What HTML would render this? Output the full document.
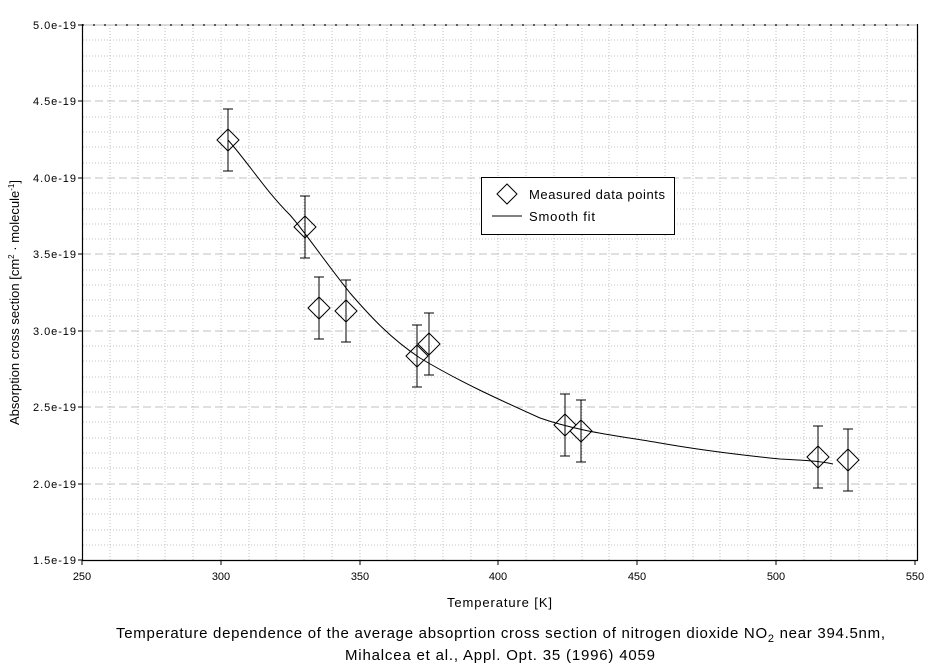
<!DOCTYPE html>
<html><head><style>body{margin:0;background:#fff}svg{display:block}text{font-family:"Liberation Sans",Arial,sans-serif}</style></head>
<body>
<svg width="942" height="668" xmlns="http://www.w3.org/2000/svg">
<g stroke="#c0c0c0" stroke-width="1" stroke-dasharray="1,2" fill="none">
<path d="M110,25V560M138,25V560M165,25V560M193,25V560M221,25V560M249,25V560M276,25V560M304,25V560M332,25V560M360,25V560M387,25V560M415,25V560M443,25V560M471,25V560M498,25V560M526,25V560M554,25V560M582,25V560M609,25V560M637,25V560M665,25V560M693,25V560M720,25V560M748,25V560M776,25V560M804,25V560M831,25V560M859,25V560M887,25V560"/>
<path d="M83,545H916M83,530H916M83,514H916M83,499H916M83,468H916M83,453H916M83,438H916M83,422H916M83,392H916M83,377H916M83,361H916M83,346H916M83,316H916M83,300H916M83,285H916M83,270H916M83,239H916M83,224H916M83,209H916M83,193H916M83,163H916M83,147H916M83,132H916M83,117H916M83,86H916M83,71H916M83,56H916M83,40H916"/>
</g>
<g stroke="#c0c0c0" stroke-width="1" stroke-dasharray="8,4" fill="none">
<path d="M83,484H916M83,407H916M83,331H916M83,254H916M83,178H916M83,101H916"/>
</g>
<path d="M82,25H917" stroke="#000" stroke-dasharray="2,9" stroke-width="1.3"/>
<path d="M82,25H917" stroke="#bbb" stroke-dasharray="0,2,9,0" stroke-width="1"/>
<path d="M82.5,24V560.5H917.5V24" stroke="#000" fill="none" stroke-width="1.2"/>
<g stroke="#000"><path d="M78,25H82M78,101H82M78,178H82M78,254H82M78,331H82M78,407H82M78,484H82M78,560H82M82,560V565M221,560V565M360,560V565M498,560V565M637,560V565M776,560V565M915,560V565"/></g>
<g font-size="11" text-anchor="end"><text x="76" y="29" textLength="43">5.0e-19</text><text x="76" y="105" textLength="43">4.5e-19</text><text x="76" y="182" textLength="43">4.0e-19</text><text x="76" y="258" textLength="43">3.5e-19</text><text x="76" y="335" textLength="43">3.0e-19</text><text x="76" y="411" textLength="43">2.5e-19</text><text x="76" y="488" textLength="43">2.0e-19</text><text x="76" y="564" textLength="43">1.5e-19</text></g>
<g font-size="11" text-anchor="middle"><text x="82" y="580">250</text><text x="221" y="580">300</text><text x="360" y="580">350</text><text x="498" y="580">400</text><text x="637" y="580">450</text><text x="776" y="580">500</text><text x="915" y="580">550</text></g>
<text x="447" y="607" font-size="13" textLength="105">Temperature [K]</text>
<text transform="translate(19,425) rotate(-90)" font-size="13">Absorption cross section [cm<tspan font-size="8" dy="-5">2</tspan><tspan dy="5"> · molecule</tspan><tspan font-size="8" dy="-5">-1</tspan><tspan dy="5">]</tspan></text>
<text x="116" y="638" font-size="15" textLength="769">Temperature dependence of the average absoprtion cross section of nitrogen dioxide NO<tspan font-size="11" dy="4">2</tspan><tspan dy="-4"> near 394.5nm,</tspan></text>
<text x="345" y="660" font-size="15" textLength="310">Mihalcea et al., Appl. Opt. 35 (1996) 4059</text>
<path d="M228,140 C250,165 265,190 290,215 C305,232 320,255 350,293 C370,316 390,338 420,358 C460,382 500,400 540,418 C580,432 620,436 660,443 C700,450 740,455 780,459 C800,460 820,461 833,464" stroke="#000" fill="none" stroke-width="1"/>
<g stroke="#000" fill="none" stroke-width="1">
<path d="M228,109V171M223,109H233M223,171H233M217,140L228,129L239,140L228,151Z"/>
<path d="M305,196V258M300,196H310M300,258H310M294,227L305,216L316,227L305,238Z"/>
<path d="M319,277V339M314,277H324M314,339H324M308,308L319,297L330,308L319,319Z"/>
<path d="M346,280V342M341,280H351M341,342H351M335,311L346,300L357,311L346,322Z"/>
<path d="M417,325V387M412,325H422M412,387H422M406,356L417,345L428,356L417,367Z"/>
<path d="M429,313V375M424,313H434M424,375H434M418,344L429,333L440,344L429,355Z"/>
<path d="M565,394V456M560,394H570M560,456H570M554,425L565,414L576,425L565,436Z"/>
<path d="M581,400V462M576,400H586M576,462H586M570,431L581,420L592,431L581,442Z"/>
<path d="M818,426V488M813,426H823M813,488H823M807,457L818,446L829,457L818,468Z"/>
<path d="M848,429V491M843,429H853M843,491H853M837,460L848,449L859,460L848,471Z"/>
</g>
<rect x="481.5" y="177.5" width="193" height="57" fill="#fff" stroke="#000"/>
<path d="M497,194L507,184L517,194L507,204Z M492,216H522" stroke="#000" fill="none"/>
<text x="529" y="199" font-size="13" textLength="136">Measured data points</text>
<text x="529" y="221" font-size="13" textLength="66">Smooth fit</text>
</svg>
</body></html>
